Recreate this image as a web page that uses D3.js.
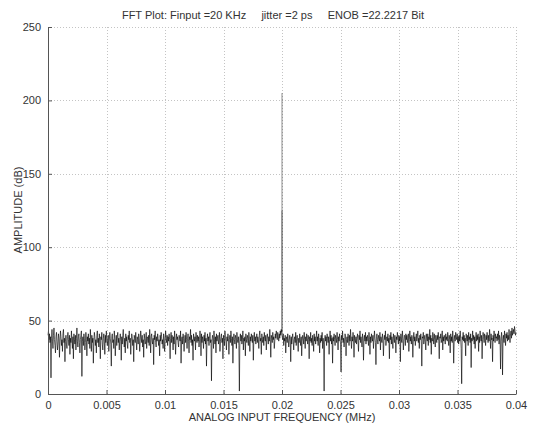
<!DOCTYPE html>
<html><head><meta charset="utf-8">
<script src="https://cdn.jsdelivr.net/npm/d3@7"></script>
<style>body{margin:0;background:#fff}svg{display:block}text{font-family:"Liberation Sans",Arial,sans-serif;fill:#333}</style>
</head><body>
<svg id="c" width="537" height="426"></svg>
<script>
const title = "FFT Plot: Finput =20 KHz     jitter =2 ps     ENOB =22.2217 Bit";
const xLabel = "ANALOG INPUT FREQUENCY (MHz)";
const yLabel = "AMPLITUDE (dB)";
const xTicks = [0, 0.005, 0.01, 0.015, 0.02, 0.025, 0.03, 0.035, 0.04];
const yTicks = [0, 50, 100, 150, 200, 250];
const freqMax = 0.04;
// tone bins at the input frequency
const toneFreq = [0.02, 0.02];
const toneAmp = [205, 125];
const toneBase = 42;
// noise floor amplitude (dB) per FFT bin, evenly spaced from 0 to 0.04 MHz
const amplitude = [
40,43,37,41,35,39,11,38,44,36,31,40,45,37,33,28,39,42,36,30,
34,41,38,25,36,43,39,33,37,29,41,44,35,38,22,36,40,34,31,39,
42,37,33,40,27,38,35,43,36,31,39,24,41,37,34,40,30,38,45,36,
32,39,41,35,28,37,40,43,12,36,39,33,41,38,30,35,42,37,26,39,
36,41,34,38,31,44,37,29,40,35,38,21,36,42,39,33,37,28,40,43,
35,38,32,41,36,24,39,37,42,34,30,38,41,36,27,40,35,43,38,33,
37,40,29,36,42,38,34,19,39,41,35,37,31,43,38,26,36,40,33,39,
42,35,38,30,37,41,36,23,39,34,40,44,37,32,38,28,41,36,39,34,
31,40,37,43,35,38,27,36,41,39,33,37,22,40,38,35,42,36,30,39,
37,34,41,38,29,36,43,39,35,40,32,37,25,41,38,34,36,42,31,39,
38,35,40,33,44,37,28,39,41,36,34,38,20,40,37,43,35,32,39,36,
41,38,33,37,26,40,36,42,39,34,37,31,41,38,29,36,43,38,35,40,
33,39,36,41,37,24,38,42,35,40,37,30,39,34,43,38,27,36,41,37,
39,35,32,40,38,36,43,21,37,39,34,41,38,29,36,40,35,42,37,31,
38,41,36,28,39,37,44,35,40,33,37,23,41,38,36,39,30,42,37,35,
40,36,39,32,37,43,38,26,41,35,39,37,31,40,36,42,34,38,19,37,
41,36,39,33,38,42,35,37,9,36,40,38,31,43,37,34,39,28,41,36,
38,40,34,37,42,29,36,39,41,35,38,24,40,37,33,43,38,36,30,39,
36,41,38,27,37,40,35,43,38,33,39,21,36,41,37,34,40,38,31,42,
37,35,39,33,2,38,41,36,40,34,37,43,30,38,36,39,26,41,37,35,
40,38,33,42,37,29,39,36,41,38,35,40,23,37,42,36,39,34,38,41,
35,39,37,31,40,43,36,38,27,41,37,35,39,33,42,38,36,40,30,37,
41,38,34,39,36,44,37,25,40,38,35,42,37,39,31,36,41,38,43,40,
37,42,39,36,41,38,43,40,44,42,39,37,41,33,38,36,40,28,37,39,
35,41,38,32,36,40,37,22,39,34,38,41,36,30,37,39,35,42,33,38,
40,36,29,38,35,41,37,33,39,26,36,40,38,34,42,37,31,39,36,41,
38,34,40,37,24,39,36,42,35,38,33,40,37,29,41,36,39,34,38,43,
36,39,33,41,37,28,38,35,40,36,42,31,38,34,2,37,40,36,39,33,
41,38,35,39,27,37,43,36,40,34,38,21,39,36,41,37,33,40,38,35,
42,37,30,39,36,41,38,34,15,40,37,43,35,38,32,36,41,39,26,37,
39,35,41,38,33,40,36,44,37,31,39,36,42,38,25,40,37,35,39,34,
38,41,36,29,40,37,43,35,39,36,32,41,38,23,37,40,36,42,34,39,
36,40,38,33,42,37,27,39,35,41,38,36,40,31,37,43,38,35,20,39,
41,37,34,40,38,36,42,30,39,37,35,41,38,26,36,40,37,43,33,38,
39,36,41,35,38,24,40,37,42,34,39,36,31,41,38,35,40,37,28,39,
37,42,38,34,40,36,39,22,41,37,35,43,38,30,36,40,39,33,41,37,
40,35,38,41,29,37,43,36,39,34,40,38,25,37,42,36,39,33,38,41,
36,39,43,35,38,31,40,37,41,36,19,39,38,42,34,37,40,36,30,41,
38,36,41,33,39,37,44,35,40,27,38,36,42,39,34,41,37,32,40,38,
35,40,37,42,36,24,39,38,41,35,37,43,30,39,36,40,38,34,41,37,
39,36,42,38,33,40,37,28,41,36,39,35,43,38,21,37,40,36,42,39,
37,41,35,39,34,40,36,43,38,31,7,39,37,42,36,40,35,38,26,41,
38,36,40,33,42,37,39,35,41,18,38,36,43,37,40,34,39,31,38,42,
36,40,37,41,29,39,35,43,38,36,40,24,37,42,39,35,41,38,33,40,
37,42,38,35,40,36,44,39,31,41,37,38,22,40,36,43,39,35,41,38,
39,36,41,37,43,34,40,38,17,36,42,39,13,37,40,35,43,38,33,41,
38,42,36,40,37,44,39,35,41,43,38,45,40,42,44,41,46,43,40,42
];

const m = {l:48, r:516, t:27, b:394};
const svg = d3.select("#c");
const x = d3.scaleLinear().domain([0, freqMax]).range([m.l, m.r]);
const y = d3.scaleLinear().domain([0, 250]).range([m.b, m.t]);

// grid
const g = svg.append("g");
g.selectAll(".vg").data(xTicks.slice(1)).enter().append("line")
 .attr("x1", d=>Math.round(x(d))+0.5).attr("x2", d=>Math.round(x(d))+0.5).attr("y1", m.t).attr("y2", m.b)
 .attr("stroke", "#c4c4c4").attr("stroke-width", 1).attr("stroke-dasharray", "1,2");
g.selectAll(".hg").data(yTicks.slice(1)).enter().append("line")
 .attr("x1", m.l).attr("x2", m.r).attr("y1", d=>Math.round(y(d))+0.5).attr("y2", d=>Math.round(y(d))+0.5)
 .attr("stroke", "#c4c4c4").attr("stroke-width", 1).attr("stroke-dasharray", "1,2");

// noise floor
const N = amplitude.length;
const line = d3.line().x((d,i)=>x(i*freqMax/(N-1))).y(d=>y(d));
svg.append("path").datum(amplitude).attr("d", line)
 .attr("fill","none").attr("stroke","#000").attr("stroke-width",0.7).attr("stroke-opacity",0.9);

// tone
svg.selectAll(".tone").data(toneAmp).enter().append("line")
 .attr("x1", (d,i)=>x(toneFreq[i])).attr("x2", (d,i)=>x(toneFreq[i]))
 .attr("y1", y(toneBase)).attr("y2", d=>y(d))
 .attr("stroke","#000").attr("stroke-width",1).attr("stroke-opacity",0.45);

// axes
const xAxis = d3.axisBottom(x).tickValues(xTicks).tickFormat(d=>String(+d.toFixed(3))).tickSizeInner(-4).tickSizeOuter(0).tickPadding(7);
const yAxis = d3.axisLeft(y).tickValues(yTicks).tickSizeInner(-4).tickSizeOuter(0).tickPadding(7);
const gx = svg.append("g").attr("transform",`translate(0,${m.b})`).call(xAxis);
const gy = svg.append("g").attr("transform",`translate(${m.l},0)`).call(yAxis);
[gx, gy].forEach(a=>{
  a.select(".domain").attr("stroke","#555");
  a.selectAll(".tick line").attr("stroke","#555");
  a.selectAll("text").style("font-size","11px").style("fill","#333").style("font-family","'Liberation Sans',Arial,sans-serif");
});

svg.append("text").attr("x", 273).attr("y", 19).attr("text-anchor","middle")
 .style("font-size","11px").style("white-space","pre").text(title);
svg.append("text").attr("x", 282).attr("y", 421).attr("text-anchor","middle")
 .style("font-size","11px").text(xLabel);
svg.append("text").attr("transform","translate(22,210) rotate(-90)").attr("text-anchor","middle")
 .style("font-size","11px").text(yLabel);
</script>
</body></html>
